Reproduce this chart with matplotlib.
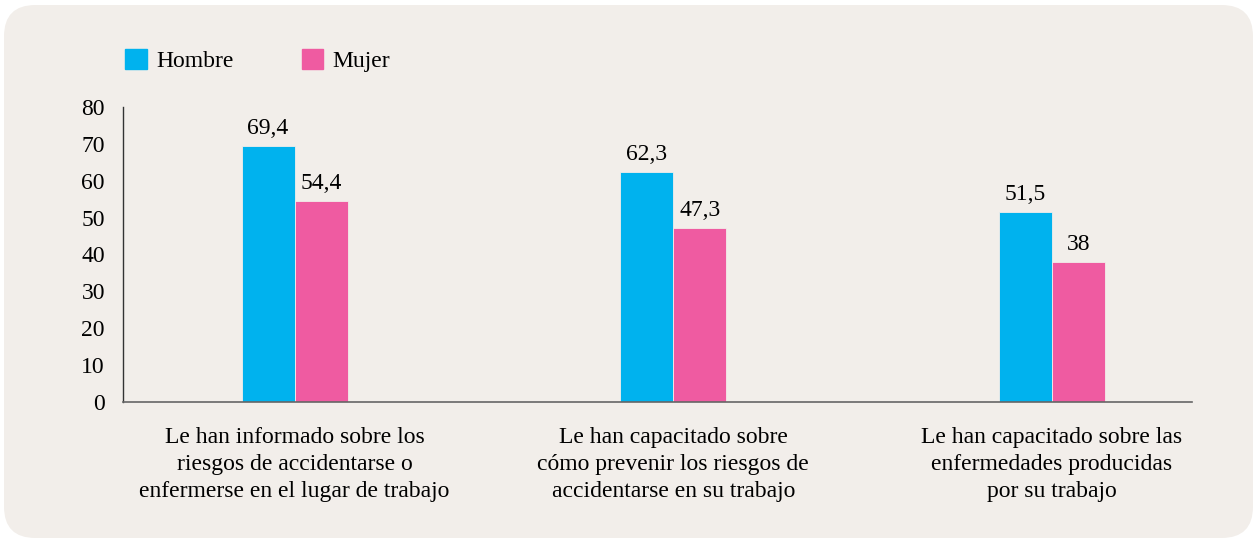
import numpy as np
import matplotlib
matplotlib.use('Agg')
import matplotlib.pyplot as plt
from matplotlib.patches import FancyBboxPatch, Rectangle

# --- data ---
categories = [
    'Le han informado sobre los\nriesgos de accidentarse o\nenfermerse en el lugar de trabajo',
    'Le han capacitado sobre\ncómo prevenir los riesgos de\naccidentarse en su trabajo',
    'Le han capacitado sobre las\nenfermedades producidas\npor su trabajo',
]
hombre = [69.4, 62.3, 51.5]
mujer = [54.4, 47.3, 38]
hombre_labels = ['69,4', '62,3', '51,5']
mujer_labels = ['54,4', '47,3', '38']
series_names = ['Hombre', 'Mujer']

CYAN = '#00b2ee'
PINK = '#ef5ba1'
BG = '#f2eeea'

plt.rcParams['font.family'] = ['Liberation Serif', 'DejaVu Serif']

fig = plt.figure(figsize=(12.57, 5.44), dpi=100)
fig.patch.set_facecolor('white')

# rounded panel behind everything
panel = FancyBboxPatch((4 / 1257, 6 / 544), 1249 / 1257, 533 / 544,
                       boxstyle='round,pad=0,rounding_size=0.025',
                       mutation_aspect=1257 / 544,
                       transform=fig.transFigure, facecolor=BG,
                       edgecolor='none', zorder=-5)
fig.patches.append(panel)

ax = fig.add_axes([123 / 1257, 142 / 544, 1069 / 1257, 295 / 544])
ax.set_facecolor('none')
ax.set_zorder(2)

x = np.arange(len(categories))
w = 0.14
ax.bar(x - w / 2, hombre, w, color=CYAN, edgecolor=BG, linewidth=0.6)
ax.bar(x + w / 2, mujer, w, color=PINK, edgecolor=BG, linewidth=0.6)

for xi, v, t in zip(x, hombre, hombre_labels):
    ax.annotate(t, (xi - w / 2, v), xytext=(0, 5), textcoords='offset points',
                ha='center', va='bottom', fontsize=17)
for xi, v, t in zip(x, mujer, mujer_labels):
    ax.annotate(t, (xi + w / 2, v), xytext=(0, 5), textcoords='offset points',
                ha='center', va='bottom', fontsize=17)

ax.set_ylim(0, 80)
ax.set_xlim(-0.453, 2.37)
ax.set_yticks(range(0, 81, 10))
ax.set_xticks(x)
ax.set_xticklabels(categories, fontsize=17, linespacing=1.38)
ax.tick_params(axis='y', length=0, pad=13, labelsize=17)
ax.tick_params(axis='x', length=0, pad=18)

for s in ['top', 'right']:
    ax.spines[s].set_visible(False)
ax.spines['left'].set_color('#333333')
ax.spines['left'].set_linewidth(1.0)
ax.spines['bottom'].set_color('#666666')
ax.spines['bottom'].set_linewidth(1.2)

# legend
handles = [Rectangle((0, 0), 1, 1, color=CYAN), Rectangle((0, 0), 1, 1, color=PINK)]
leg = fig.legend(handles, series_names, loc='upper left',
                 bbox_to_anchor=(104 / 1257, 1 - 28 / 544), ncol=2, frameon=False,
                 fontsize=17, handlelength=0.9, handleheight=0.9, handletextpad=0.4,
                 columnspacing=2.9)
leg.set_zorder(3)

fig.savefig('out.png', dpi=100)
